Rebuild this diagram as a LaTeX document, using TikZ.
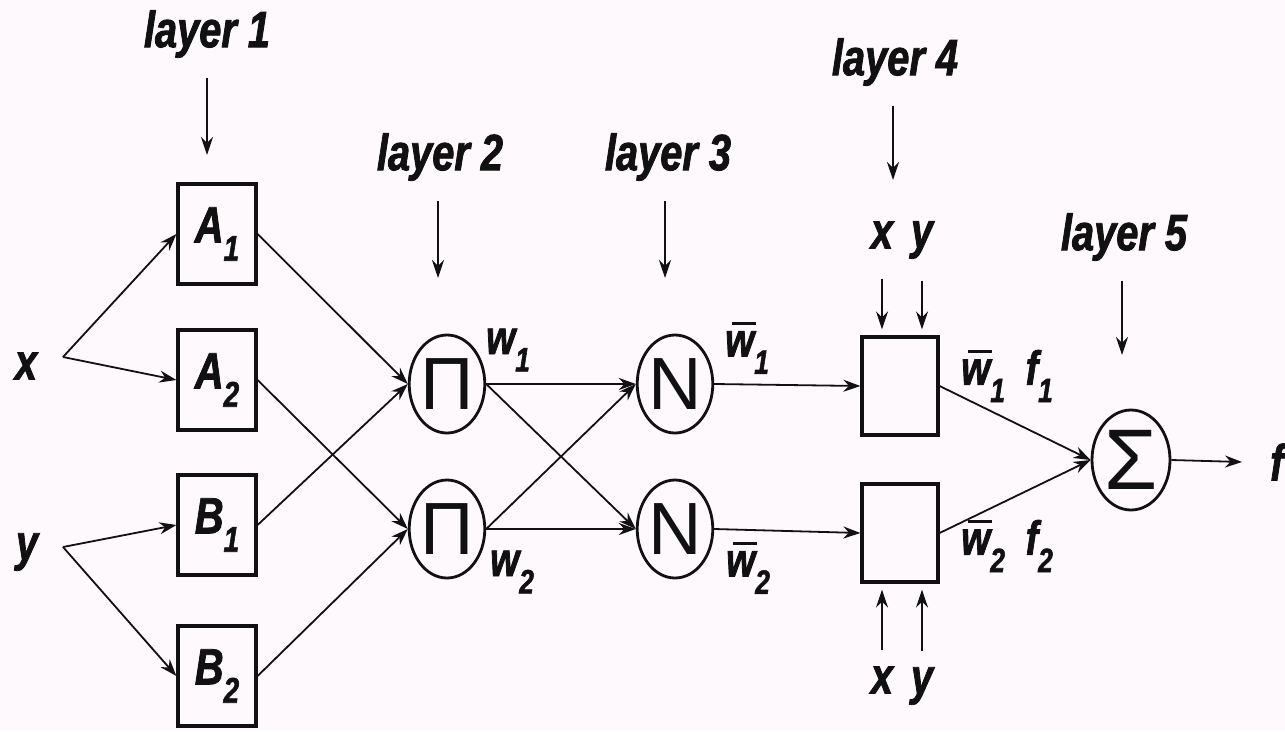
\documentclass[tikz,border=0pt]{standalone}
\usepackage{fontspec}
\setmainfont{Liberation Sans}
\newfontfamily\lab[FakeStretch=0.78,BoldItalicFeatures={FakeBold=1.6}]{Liberation Sans}
\newfontfamily\sym{Liberation Sans}
\usetikzlibrary{arrows.meta,shapes.geometric,calc}
\definecolor{bg}{HTML}{FDF9FD}
\definecolor{ink}{HTML}{111111}
\newcommand{\lsub}[1]{\raisebox{-0.36em}{\scalebox{0.7}{#1}}}
\newcommand{\wbar}{\leavevmode\rlap{\kern0.14em\rule[0.66em]{0.5em}{2.6pt}}w}
\begin{document}
\begin{tikzpicture}[x=1pt,y=-1pt,
  lbl/.style={font=\lab\bfseries\itshape\fontsize{51}{54}\selectfont, inner sep=0pt, text=ink},
  wlbl/.style={font=\lab\bfseries\itshape\fontsize{48}{52}\selectfont, inner sep=0pt, text=ink},
  lbox/.style={draw=ink, line width=3.2pt, minimum width=78pt, minimum height=100pt, inner sep=0pt, text=ink, font=\lab\bfseries\itshape\fontsize{51}{54}\selectfont},
  opnode/.style={draw=ink, ellipse, line width=2.8pt, minimum width=74pt, minimum height=98pt, inner sep=0pt, text=ink},
  con/.style={draw=ink, line width=1.8pt, -{Stealth[length=17pt,width=12pt]}},
  ptr/.style={draw=ink, line width=1.8pt, -{Stealth[length=18pt,width=12pt]}},
]
\fill[bg] (0,0) rectangle (1285,731);
\useasboundingbox (0,0) rectangle (1285,731);

% layer labels
\node[lbl] (L1) at (207,34) {layer 1};
\node[lbl] (L2) at (440,157) {layer 2};
\node[lbl] (L3) at (668,157) {layer 3};
\node[lbl] (L4) at (895,62) {layer 4};
\node[lbl] (L5) at (1124,237) {layer 5};
\coordinate (t1) at (207,155);
\coordinate (t2) at (438,278);
\coordinate (t3) at (665,278);
\coordinate (t4) at (893,180);
\coordinate (t5) at (1122,355);
\draw[ptr] ($(L1.south)+(0,20)$) -- (t1);
\draw[ptr] ($(L2.south)+(-2,20)$) -- (t2);
\draw[ptr] ($(L3.south)+(-3,20)$) -- (t3);
\draw[ptr] ($(L4.south)+(-2,20)$) -- (t4);
\draw[ptr] ($(L5.south)+(-2,20)$) -- (t5);

% layer 1
\node[lbox] (A1) at (217,234) {A\lsub{1}};
\node[lbox] (A2) at (217,380) {A\lsub{2}};
\node[lbox] (B1) at (217,525) {B\lsub{1}};
\node[lbox] (B2) at (217,676) {B\lsub{2}};

% inputs
\node[lbl] (x) at (26,366) {x};
\node[lbl] (y) at (27,552) {y};
\coordinate (xf) at (63,357);
\coordinate (yf) at (63,547);
\draw[con] (xf) -- (A1.west);
\draw[con] (xf) -- (A2.west);
\draw[con] (yf) -- (B1.west);
\draw[con] (yf) -- (B2.west);

% layer 2
\node[opnode] (P1) at (447,384) {\sym\fontsize{74}{74}\selectfont Π};
\node[opnode] (P2) at (447,529) {\sym\fontsize{74}{74}\selectfont Π};
\draw[con] (A1.east) -- (P1.west);
\draw[con] (B1.east) -- (P1.west);
\draw[con] (A2.east) -- (P2.west);
\draw[con] (B2.east) -- (P2.west);

% layer 3
\node[opnode] (N1) at (675,384) {\sym\fontsize{74}{74}\selectfont N};
\node[opnode] (N2) at (675,529) {\sym\fontsize{74}{74}\selectfont N};
\draw[con] (P1.east) -- (N1.west);
\draw[con] (P1.east) -- (N2.west);
\draw[con] (P2.east) -- (N1.west);
\draw[con] (P2.east) -- (N2.west);

\node[wlbl] (w1) at (508,350) {w\lsub{1}};
\node[wlbl] (w2) at (512,572) {w\lsub{2}};
\node[wlbl] (wb1) at (747,348) {\wbar\lsub{1}};
\node[wlbl] (wb2) at (748,568) {\wbar\lsub{2}};

% layer 4
\node[lbox, minimum width=76pt, minimum height=98pt] (F1) at (900,386) {};
\node[lbox, minimum width=76pt, minimum height=98pt] (F2) at (900,533) {};
\draw[con] (N1.east) -- (F1.west);
\draw[con] (N2.east) -- (F2.west);

\node[lbl] (x4) at (882,235) {x};
\node[lbl] (y4) at (922,240) {y};
\draw[ptr, shorten >=6pt] ($(x4.south)+(0,30)$) -- (F1.north -| x4);
\draw[ptr, shorten >=6pt] ($(y4.south)+(0,22)$) -- (F1.north -| y4);
\node[lbl] (x5) at (882,680) {x};
\node[lbl] (y5) at (922,686) {y};
\draw[ptr, shorten >=6pt] ($(x5.north)+(0,-16)$) -- (F2.south -| x5);
\draw[ptr, shorten >=6pt] ($(y5.north)+(0,-16)$) -- (F2.south -| y5);

\node[wlbl] (o1) at (1007,376) {\wbar\lsub{1}\ \ f\lsub{1}};
\node[wlbl] (o2) at (1007,546) {\wbar\lsub{2}\ \ f\lsub{2}};

% layer 5
\node[opnode, minimum width=78pt, minimum height=100pt] (S) at (1131,460) {\sym\fontsize{86}{86}\selectfont Σ};
\draw[con] (F1.east) -- (S.west);
\draw[con] (F2.east) -- (S.west);
\node[lbl, anchor=west] (f) at (1270,462) {f};
\draw[con] (S.east) -- ($(f.west)+(-28,0)$);
\end{tikzpicture}
\end{document}
